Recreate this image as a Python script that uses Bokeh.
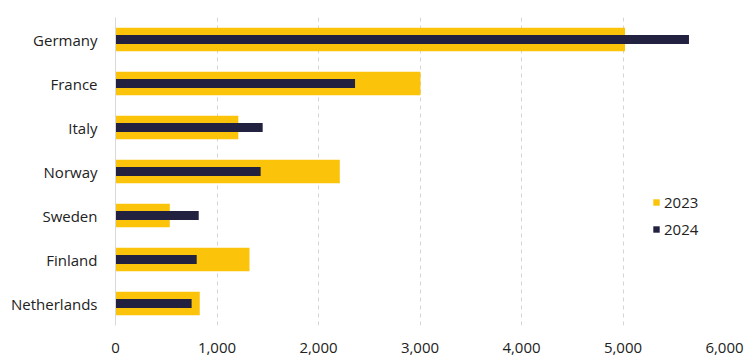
from bokeh.plotting import figure
from bokeh.models import Range1d, FactorRange, FixedTicker, NumeralTickFormatter, Legend, LegendItem, ColumnDataSource
from bokeh.embed import file_html
from bokeh.resources import INLINE

countries = ["Germany", "France", "Italy", "Norway", "Sweden", "Finland", "Netherlands"]
values_2023 = [5020, 3005, 1210, 2210, 535, 1320, 830]
values_2024 = [5650, 2360, 1450, 1430, 820, 800, 750]
x_ticks = [0, 1000, 2000, 3000, 4000, 5000, 6000]

GOLD = "#FCC30B"
NAVY = "#222240"
FONT = "Open Sans"

src = ColumnDataSource(dict(country=countries, v2023=values_2023, v2024=values_2024))

p = figure(width=754, height=364, output_backend="svg", toolbar_location=None,
           y_range=FactorRange(*list(reversed(countries)), range_padding=0),
           x_range=Range1d(0, 6000),
           min_border_left=115, min_border_right=30, min_border_top=17, min_border_bottom=39)
p.outline_line_color = None
p.background_fill_color = "white"
p.border_fill_color = "white"

r1 = p.hbar(y="country", right="v2023", left=0, height=0.53, source=src,
            fill_color=GOLD, line_color=None)
r2 = p.hbar(y="country", right="v2024", left=0, height=0.21, source=src,
            fill_color=NAVY, line_color=None)

p.xaxis.ticker = FixedTicker(ticks=x_ticks)
p.xaxis.formatter = NumeralTickFormatter(format="0,0")
p.xaxis.axis_line_color = None
p.xaxis.major_tick_line_color = None
p.xaxis.minor_tick_line_color = None
p.xaxis.major_label_standoff = 11
p.xaxis.major_label_text_font = FONT
p.xaxis.major_label_text_font_size = "15px"
p.xaxis.major_label_text_color = "#222222"

p.yaxis.axis_line_color = "#d9d9d9"
p.yaxis.major_tick_line_color = None
p.yaxis.minor_tick_line_color = None
p.yaxis.major_label_standoff = 12
p.yaxis.major_label_text_font = FONT
p.yaxis.major_label_text_font_size = "15px"
p.yaxis.major_label_text_color = "#222222"

p.ygrid.grid_line_color = None
p.xgrid.grid_line_color = "#d4d4d4"
p.xgrid.grid_line_dash = "4 4"
p.xgrid.grid_line_width = 1

legend = Legend(items=[LegendItem(label="2023", renderers=[r1]),
                       LegendItem(label="2024", renderers=[r2])],
                location=(537, 86), orientation="vertical")
legend.glyph_width = 8
legend.glyph_height = 8
legend.label_height = 20
legend.spacing = 7
legend.padding = 0
legend.margin = 0
legend.label_standoff = 4
legend.border_line_color = None
legend.background_fill_alpha = 0
legend.label_text_font = FONT
legend.label_text_font_size = "15px"
legend.label_text_color = "#222222"
p.add_layout(legend)

open("out.html", "w").write(file_html(p, INLINE))
